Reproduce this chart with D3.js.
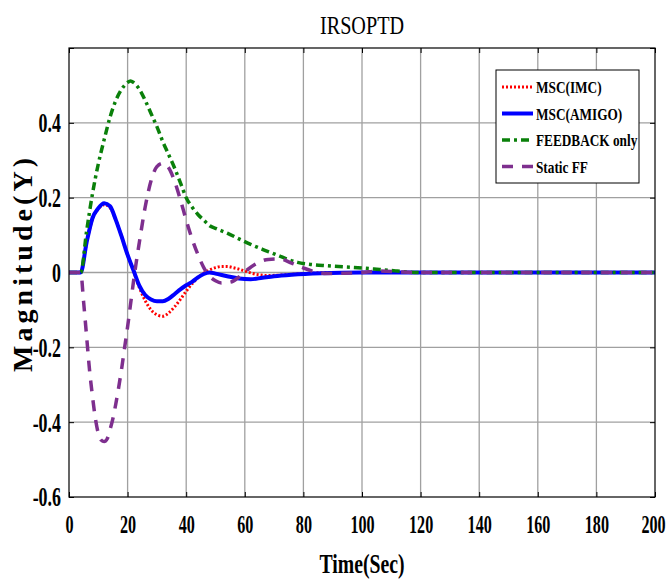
<!DOCTYPE html>
<html>
<head>
<meta charset="utf-8">
<script src="https://cdn.jsdelivr.net/npm/d3@7"></script>
<style>
  body { margin: 0; background: #fff; }
  text { font-family: "Liberation Serif", "Times New Roman", serif; }
</style>
</head>
<body>
<div id="chart"></div>
<script>
// Data
const timeImc = [0, 4, 6, 8, 10, 12, 14, 16, 18, 20, 22, 24, 26, 28, 30, 32, 34, 36, 38, 40, 42, 44, 46, 48, 50, 52, 54, 56, 58, 60, 62, 64, 68, 74, 80, 90, 200];
const valImc = [0, 0, 0.08, 0.143, 0.17, 0.181, 0.173, 0.14, 0.095, 0.047, 0.004, -0.04, -0.075, -0.1, -0.113, -0.117, -0.108, -0.092, -0.072, -0.05, -0.03, -0.014, -0.002, 0.007, 0.013, 0.016, 0.016, 0.013, 0.009, 0.004, -0.001, -0.005, -0.008, -0.006, -0.003, 0, 0];

const timeAmigo = [0, 4, 6, 8, 10, 12, 14, 16, 18, 20, 22, 24, 26, 28, 30, 32, 34, 36, 38, 40, 42, 44, 46, 48, 50, 54, 58, 62, 66, 70, 76, 86, 100, 200];
const valAmigo = [0, 0, 0.08, 0.145, 0.172, 0.185, 0.177, 0.14, 0.095, 0.047, 0.006, -0.035, -0.06, -0.072, -0.077, -0.077, -0.07, -0.058, -0.045, -0.034, -0.025, -0.013, -0.004, 0, -0.003, -0.01, -0.016, -0.018, -0.014, -0.01, -0.006, -0.002, 0, 0];

const timeFeedback = [0, 4, 6, 8, 10, 12, 14, 16, 18, 20, 21, 22, 24, 26, 28, 30, 32, 34, 36, 38, 40, 42, 44, 46, 48, 50, 54, 58, 62, 66, 70, 74, 78, 82, 88, 94, 100, 106, 112, 118, 200];
const valFeedback = [0, 0, 0.11, 0.21, 0.29, 0.355, 0.415, 0.46, 0.49, 0.508, 0.512, 0.508, 0.49, 0.46, 0.425, 0.39, 0.35, 0.315, 0.28, 0.24, 0.2, 0.175, 0.155, 0.14, 0.125, 0.118, 0.105, 0.09, 0.075, 0.062, 0.05, 0.037, 0.027, 0.022, 0.018, 0.015, 0.012, 0.008, 0.004, 0, 0];

const timeStatic = [0, 4, 5, 6, 7, 8, 9, 10, 11, 12, 13, 14, 15, 16, 17, 18, 19, 20, 21, 22, 23, 24, 26, 28, 30, 32, 34, 36, 38, 40, 42, 44, 46, 48, 50, 52, 55, 58, 61, 64, 68, 72, 76, 80, 84, 88, 94, 100, 106, 112, 118, 200];
const valStatic = [0, 0, -0.08, -0.17, -0.26, -0.33, -0.39, -0.43, -0.448, -0.452, -0.445, -0.42, -0.39, -0.35, -0.305, -0.255, -0.2, -0.145, -0.085, -0.025, 0.03, 0.08, 0.175, 0.245, 0.283, 0.292, 0.28, 0.245, 0.195, 0.14, 0.09, 0.048, 0.013, -0.01, -0.022, -0.028, -0.026, -0.012, 0.008, 0.024, 0.035, 0.036, 0.025, 0.012, 0.002, -0.003, -0.002, 0, 0.004, 0.002, 0, 0];

const seriesNames = ["MSC(IMC)", "MSC(AMIGO)", "FEEDBACK only", "Static FF"];
const xTicks = [0, 20, 40, 60, 80, 100, 120, 140, 160, 180, 200];
const yTicks = [-0.6, -0.4, -0.2, 0, 0.2, 0.4, 0.6];
const yTickLabels = ["-0.6", "-0.4", "-0.2", "0", "0.2", "0.4", ""];

const width = 667, height = 581;
const plot = { left: 69, right: 655, top: 48, bottom: 497 };

const svg = d3.select("#chart").append("svg")
    .attr("width", width)
    .attr("height", height);

const x = d3.scaleLinear().domain([0, 200]).range([plot.left, plot.right]);
const y = d3.scaleLinear().domain([-0.6, 0.6]).range([plot.bottom, plot.top]);

// Squeeze text horizontally to mimic the condensed Times look
function condense(sel, factor) {
    sel.each(function () {
        const len = this.getComputedTextLength();
        d3.select(this).attr("textLength", len * factor).attr("lengthAdjust", "spacingAndGlyphs");
    });
}

// Grid
const grid = svg.append("g");
grid.selectAll(".vgrid").data(xTicks.slice(1, -1)).enter().append("line")
    .attr("x1", d => x(d)).attr("x2", d => x(d))
    .attr("y1", plot.top).attr("y2", plot.bottom)
    .attr("stroke", "#a0a0a0").attr("stroke-width", 1.3);
grid.selectAll(".hgrid").data(yTicks.slice(1, -1)).enter().append("line")
    .attr("x1", plot.left).attr("x2", plot.right)
    .attr("y1", d => y(d)).attr("y2", d => y(d))
    .attr("stroke", "#a0a0a0").attr("stroke-width", 1.3);

// Axes (ticks inward, MATLAB style)
const xAxisB = svg.append("g").attr("transform", `translate(0,${plot.bottom})`)
    .call(d3.axisBottom(x).tickValues(xTicks).tickSize(-5).tickPadding(18).tickFormat(d3.format("d")));
const xAxisT = svg.append("g").attr("transform", `translate(0,${plot.top})`)
    .call(d3.axisTop(x).tickValues(xTicks).tickSize(-5).tickFormat(""));
const yAxisL = svg.append("g").attr("transform", `translate(${plot.left},0)`)
    .call(d3.axisLeft(y).tickValues(yTicks).tickSize(-5).tickPadding(8).tickFormat((d, i) => yTickLabels[i]));
const yAxisR = svg.append("g").attr("transform", `translate(${plot.right},0)`)
    .call(d3.axisRight(y).tickValues(yTicks).tickSize(-5).tickFormat(""));

[xAxisB, xAxisT, yAxisL, yAxisR].forEach(a => {
    a.select(".domain").remove();
    a.selectAll(".tick line").attr("stroke", "#000").attr("stroke-width", 1);
});
// x labels squeezed with a transform so their boxes stay narrow
xAxisB.selectAll("text")
    .attr("font-family", "Liberation Serif").attr("font-size", 26).attr("font-weight", "bold").attr("fill", "#000")
    .attr("transform", "scale(0.62,1)");
xAxisB.selectAll(".tick").filter(d => d === 200).select("text")
    .attr("transform", "translate(-2,0) scale(0.62,1)");
yAxisL.selectAll("text")
    .attr("font-family", "Liberation Serif").attr("font-size", 28).attr("font-weight", "bold").attr("fill", "#000")
    .call(condense, 0.64);

// Curves
const line = d3.line()
    .x(d => x(d[0]))
    .y(d => y(d[1]))
    .curve(d3.curveMonotoneX);

const series = [
    { name: seriesNames[0], t: timeImc, v: valImc, color: "#ff0000", width: 3, dash: "2,2" },
    { name: seriesNames[1], t: timeAmigo, v: valAmigo, color: "#0000ff", width: 4, dash: null },
    { name: seriesNames[2], t: timeFeedback, v: valFeedback, color: "#0a800a", width: 3.5, dash: "8,4,3,4" },
    { name: seriesNames[3], t: timeStatic, v: valStatic, color: "#7e2f8e", width: 3.5, dash: "11,9" }
];

svg.append("clipPath").attr("id", "clip").append("rect")
    .attr("x", plot.left).attr("y", plot.top)
    .attr("width", plot.right - plot.left).attr("height", plot.bottom - plot.top);

svg.append("g").attr("clip-path", "url(#clip)")
    .selectAll("path").data(series).enter().append("path")
    .attr("d", s => line(s.t.map((t, i) => [t, s.v[i]])))
    .attr("fill", "none")
    .attr("stroke", s => s.color)
    .attr("stroke-width", s => s.width)
    .attr("stroke-dasharray", s => s.dash);

// Box
svg.append("rect")
    .attr("x", plot.left).attr("y", plot.top)
    .attr("width", plot.right - plot.left).attr("height", plot.bottom - plot.top)
    .attr("fill", "none").attr("stroke", "#000").attr("stroke-width", 1.2);

// Title and axis labels
svg.append("text")
    .attr("x", (plot.left + plot.right) / 2).attr("y", 34)
    .attr("text-anchor", "middle")
    .attr("font-size", 25).attr("fill", "#000")
    .text("IRSOPTD")
    .attr("textLength", 84).attr("lengthAdjust", "spacingAndGlyphs");

svg.append("text")
    .attr("x", (plot.left + plot.right) / 2).attr("y", 573)
    .attr("text-anchor", "middle")
    .attr("font-size", 28).attr("font-weight", "bold").attr("fill", "#000")
    .text("Time(Sec)")
    .attr("textLength", 85).attr("lengthAdjust", "spacingAndGlyphs");

svg.append("text")
    .attr("transform", "translate(32,265) rotate(-90)")
    .attr("text-anchor", "middle")
    .attr("font-size", 28).attr("font-weight", "bold").attr("fill", "#000")
    .text("Magnitude(Y)")
    .attr("textLength", 214).attr("lengthAdjust", "spacing");

// Legend
const legend = svg.append("g").attr("transform", "translate(496,70)");
legend.append("rect")
    .attr("width", 143).attr("height", 113)
    .attr("fill", "#fff").attr("stroke", "#000").attr("stroke-width", 1);

const items = legend.selectAll(".item").data(series).enter().append("g")
    .attr("transform", (d, i) => `translate(0,${17 + i * 26.5})`);
items.append("line")
    .attr("x1", 6).attr("x2", 37).attr("y1", 0).attr("y2", 0)
    .attr("stroke", d => d.color)
    .attr("stroke-width", d => d.width)
    .attr("stroke-dasharray", d => d.dash);
items.append("text")
    .attr("x", 40).attr("y", 6)
    .attr("font-size", 17).attr("font-weight", "bold").attr("fill", "#000")
    .text(d => d.name)
    .call(condense, 0.78);
</script>
</body>
</html>
